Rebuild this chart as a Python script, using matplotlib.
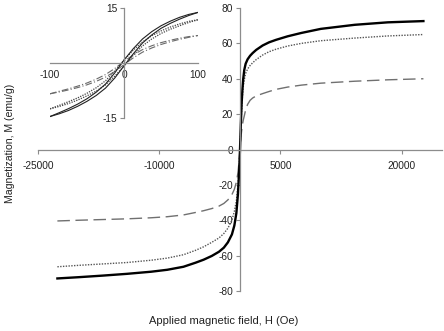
import matplotlib
matplotlib.use("Agg")
import matplotlib.pyplot as plt

plt.rcParams['font.family'] = ['Liberation Sans', 'DejaVu Sans']

# ---- main loop data (Oe, emu/g) ----
H_main = [-22600, -20000, -17000, -14000, -11000, -9000, -7000, -5500, -4500, -3500,
          -2600, -2000, -1500, -1000, -700, -450, -250, -100, 0,
          100, 200, 300, 400, 530, 700, 940, 1250, 1560, 2000, 2800, 3600, 4460,
          5900, 7600, 10000, 14200, 18300, 22700]
M_solid = [-72.9, -72.2, -71.3, -70.3, -69.1, -68.0, -66.3, -64.0, -62.3, -60.2,
           -57.8, -55.5, -52.5, -48.0, -43.0, -36.0, -25.0, -12.0, 0.0,
           14.0, 26.0, 34.0, 40.0, 45.0, 48.5, 51.0, 53.0, 54.5, 56.3, 58.8, 60.6, 62.0,
           64.0, 65.9, 68.2, 70.5, 71.9, 72.6]
M_dotted = [-66.3, -65.5, -64.7, -63.9, -62.6, -61.4, -59.5, -57.0, -55.0, -52.5,
            -50.0, -47.5, -44.5, -40.0, -35.0, -29.0, -20.0, -9.0, 0.0,
            12.0, 22.0, 30.0, 35.5, 39.5, 43.0, 45.5, 47.5, 49.0, 50.8, 53.4, 55.3, 56.7,
            58.5, 60.0, 61.5, 63.0, 64.2, 65.0]
M_dashed = [-40.4, -40.0, -39.6, -39.2, -38.6, -38.0, -37.0, -35.6, -34.6, -33.4,
            -32.0, -30.5, -28.5, -25.5, -22.5, -18.5, -13.0, -6.0, 0.0,
            6.0, 10.5, 14.0, 16.5, 19.0, 22.5, 25.5, 27.8, 29.1, 30.3, 31.6, 32.8, 34.0,
            35.3, 36.4, 37.5, 38.6, 39.4, 40.0]

# ---- inset low-field loop data ----
H_in = [-100, -87.5, -75, -62.5, -50, -37.5, -25, -12.5, 0, 12.5, 25, 37.5, 50, 62.5, 75, 87.5, 100]
solid_up = [-14.6, -13.55, -12.45, -11.2, -9.75, -7.95, -5.75, -2.7, 0.8, 3.9, 6.55, 8.55,
            10.15, 11.4, 12.45, 13.25, 13.8]
solid_lo = [-14.6, -13.85, -12.95, -11.8, -10.45, -8.85, -6.85, -4.1, -0.8, 2.5, 5.45, 7.65,
            9.45, 10.8, 11.95, 12.95, 13.8]
dot_up = [-12.5, -11.55, -10.55, -9.5, -8.25, -6.75, -4.85, -2.2, 0.8, 3.5, 5.75, 7.45,
          8.75, 9.8, 10.65, 11.35, 11.8]
dot_lo = [-12.5, -11.85, -11.05, -10.1, -8.95, -7.65, -5.95, -3.6, -0.8, 2.1, 4.65, 6.55,
          8.05, 9.2, 10.15, 11.05, 11.8]
dash_up = [-8.4, -7.7, -7.05, -6.3, -5.45, -4.4, -3.15, -1.5, 0.45, 2.2, 3.65, 4.7,
           5.55, 6.2, 6.75, 7.2, 7.5]
dash_lo = [-8.4, -7.9, -7.35, -6.7, -5.95, -5.0, -3.85, -2.3, -0.45, 1.4, 2.95, 4.1,
           5.05, 5.8, 6.45, 7.0, 7.5]

main_xticks = [-25000, -10000, 5000, 20000]
main_yticks = [-80, -60, -40, -20, 0, 20, 40, 60, 80]
inset_xticks = [-100, 0, 100]
inset_yticks = [-15, 15]

SPINE = '#8c8c8c'
TXT = '#222222'
FS = 7.3

fig = plt.figure(figsize=(4.44, 3.31), dpi=100)
ax = fig.add_axes([38/444, 1-291/331, (442-38)/444, (291-8)/331])
ax.set_facecolor('none')

ax.plot(H_main, M_dashed, color='#707070', lw=1.0, dashes=(9, 4))
ax.plot(H_main, M_dotted, color='#555555', lw=1.0, dashes=(1, 1))
ax.plot(H_main, M_solid, color='black', lw=1.7)

ax.set_xlim(-25000, 25000)
ax.set_ylim(-80, 80)
ax.set_xticks(main_xticks)
ax.set_yticks(main_yticks)
ax.set_xticklabels([str(v) for v in main_xticks])
ax.set_yticklabels([str(v) for v in main_yticks])
for s in ['top', 'right']:
    ax.spines[s].set_visible(False)
ax.spines['left'].set_position(('data', 0))
ax.spines['bottom'].set_position(('data', 0))
for s in ['left', 'bottom']:
    ax.spines[s].set_color(SPINE)
    ax.spines[s].set_linewidth(0.9)
ax.tick_params(axis='both', direction='out', length=3, width=0.8, color=SPINE,
               labelsize=FS, labelcolor=TXT, pad=2)
ax.tick_params(axis='x', pad=5)

fig.text(224/444, 1-321/331, 'Applied magnetic field, H (Oe)', ha='center', va='center',
         fontsize=8, color=TXT)
fig.text(10/444, 1-143/331, 'Magnetization, M (emu/g)', ha='center', va='center',
         rotation=90, fontsize=7.6, color=TXT)

# ---- inset ----
ai = fig.add_axes([50/444, 1-118/331, 148/444, 110/331])
ai.set_facecolor('none')
ai.plot(H_in, dash_up, color='#6a6a6a', lw=0.8, dashes=(6, 2, 1, 2))
ai.plot(H_in, dash_lo, color='#6a6a6a', lw=0.8, dashes=(6, 2, 1, 2))
ai.plot(H_in, dot_up, color='#444444', lw=0.9, dashes=(1, 1))
ai.plot(H_in, dot_lo, color='#444444', lw=0.9, dashes=(1, 1))
ai.plot(H_in, solid_up, color='#222222', lw=0.8)
ai.plot(H_in, solid_lo, color='#222222', lw=0.8)
ai.set_xlim(-100, 100)
ai.set_ylim(-15, 15)
ai.set_xticks(inset_xticks)
ai.set_yticks(inset_yticks)
ai.set_xticklabels([str(v) for v in inset_xticks])
ai.set_yticklabels([str(v) for v in inset_yticks])
for s in ['top', 'right']:
    ai.spines[s].set_visible(False)
ai.spines['left'].set_position(('data', 0))
ai.spines['bottom'].set_position(('data', 0))
for s in ['left', 'bottom']:
    ai.spines[s].set_color(SPINE)
    ai.spines[s].set_linewidth(0.9)
ai.tick_params(axis='both', direction='out', length=3, width=0.8, color=SPINE,
               labelsize=FS, labelcolor=TXT, pad=2)
ai.tick_params(axis='x', length=0, pad=5)

fig.savefig('out.png', dpi=100)
